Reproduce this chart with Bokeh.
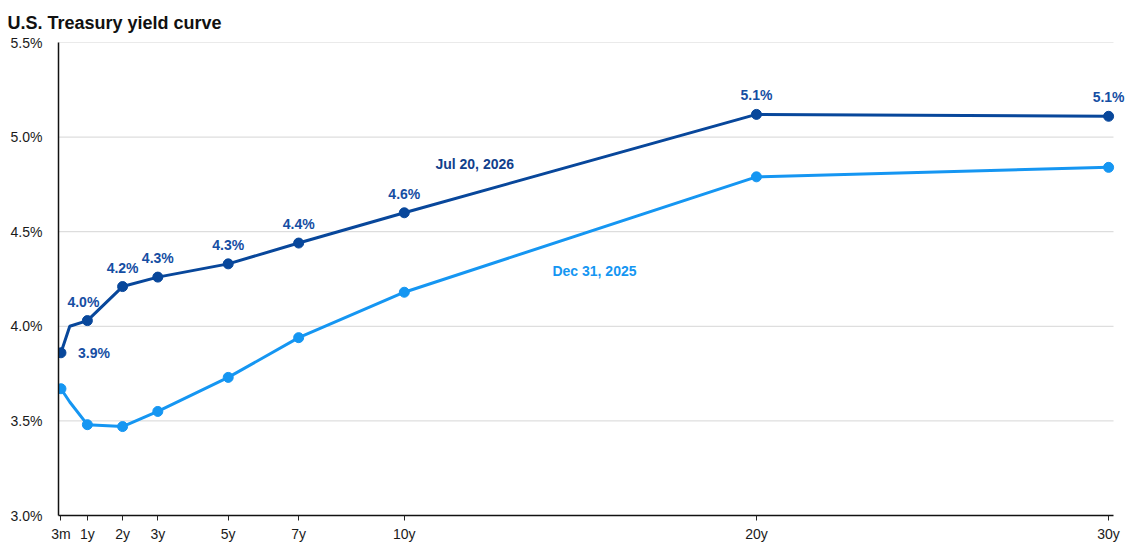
from bokeh.plotting import figure
from bokeh.models import FixedTicker, PrintfTickFormatter, Range1d, Label
from bokeh.embed import file_html
from bokeh.resources import INLINE

# Maturities (years) and their names
tenor_years = [0.25, 0.5, 1, 2, 3, 5, 7, 10, 20, 30]
tenor_names = ["3m", "6m", "1y", "2y", "3y", "5y", "7y", "10y", "20y", "30y"]
# Maturities shown on the axis
axis_years = [0.25, 1, 2, 3, 5, 7, 10, 20, 30]
axis_names = ["3m", "1y", "2y", "3y", "5y", "7y", "10y", "20y", "30y"]

# Yields, %
yields_jul_2026 = [3.86, 4.00, 4.03, 4.21, 4.26, 4.33, 4.44, 4.60, 5.12, 5.11]
yields_dec_2025 = [3.67, 3.60, 3.48, 3.47, 3.55, 3.73, 3.94, 4.18, 4.79, 4.84]

# Maturities that get a dot and a value label
marked = ["3m", "1y", "2y", "3y", "5y", "7y", "10y", "20y", "30y"]

y_ticks = [3.0, 3.5, 4.0, 4.5, 5.0, 5.5]

DARK = "#08479b"
LIGHT = "#1596f2"
LABEL_DARK = "#154ea3"
NAME_DARK = "#123f8c"
FONT = "Liberation Sans"

# Drawn part of the maturity axis; the frame runs a little further right so
# the last value label has room
X_START, X_END = 0.18, 30.14

p = figure(width=1130, height=550, output_backend="svg", toolbar_location=None,
           x_range=Range1d(X_START, 30.48), y_range=Range1d(3.0, 5.5),
           min_border_left=58, min_border_right=5, min_border_top=42,
           min_border_bottom=35, title="U.S. Treasury yield curve")
p.outline_line_color = None
p.background_fill_color = "white"
p.border_fill_color = "white"

p.title.text_font = FONT
p.title.text_font_size = "18px"
p.title.text_font_style = "bold"
p.title.text_color = "#111111"
p.title.align = "left"
p.title.offset = -51
p.title.standoff = 20

# Axes
p.xaxis.ticker = FixedTicker(ticks=axis_years)
p.xaxis.major_label_overrides = {t: n for t, n in zip(axis_years, axis_names)}
p.xaxis.bounds = (X_START, X_END)
p.xaxis.minor_tick_line_color = None
p.xaxis.major_tick_in = 0
p.xaxis.major_tick_out = 5
p.xaxis.major_tick_line_color = "#222222"
p.xaxis.axis_line_color = "#111111"
p.xaxis.axis_line_width = 1.5
p.xaxis.major_label_standoff = 5

p.yaxis.ticker = FixedTicker(ticks=y_ticks)
p.yaxis.formatter = PrintfTickFormatter(format="%.1f%%")
p.yaxis.minor_tick_line_color = None
p.yaxis.major_tick_line_color = None
p.yaxis.axis_line_color = "#111111"
p.yaxis.axis_line_width = 1.5
p.yaxis.major_label_standoff = 10

for ax in (p.xaxis, p.yaxis):
    ax.major_label_text_font = FONT
    ax.major_label_text_font_size = "14px"
    ax.major_label_text_color = "#1a1a1a"

# Horizontal grid lines, stopping where the maturity axis ends
p.xgrid.grid_line_color = None
p.ygrid.grid_line_color = None
grid_y = y_ticks[1:]
p.segment(x0=[X_START] * len(grid_y), x1=[X_END] * len(grid_y), y0=grid_y, y1=grid_y,
          line_color="#d6d6d6", line_width=1)

# Lines
p.line(tenor_years, yields_dec_2025, line_color=LIGHT, line_width=3)
p.line(tenor_years, yields_jul_2026, line_color=DARK, line_width=3)

def dots(values):
    xs = [x for x, n in zip(tenor_years, tenor_names) if n in marked]
    ys = [v for v, n in zip(values, tenor_names) if n in marked]
    return xs, ys

xs, ys = dots(yields_dec_2025)
p.scatter(xs, ys, size=10, fill_color=LIGHT, line_color=LIGHT)
xs, ys = dots(yields_jul_2026)
p.scatter(xs, ys, size=10, fill_color=DARK, line_color=DARK)

# Value labels on the Jul 20, 2026 curve (first one sits to the right, the rest above)
lx, ly = dots(yields_jul_2026)
for i, (x, y) in enumerate(zip(lx, ly)):
    if i == 0:
        dx, dy, align = 17, 0, "left"
    elif i == 1:
        dx, dy, align = -4, 19, "center"
    else:
        dx, dy, align = 0, 19, "center"
    p.add_layout(Label(x=x, y=y, text=f"{y:.1f}%", x_offset=dx, y_offset=dy,
                       text_align=align, text_baseline="middle",
                       text_font=FONT, text_font_size="14px",
                       text_font_style="bold", text_color=LABEL_DARK))

# Series names
p.add_layout(Label(x=12.0, y=4.86, text="Jul 20, 2026", text_align="center",
                   text_baseline="middle", text_font=FONT, text_font_size="14px",
                   text_font_style="bold", text_color=NAME_DARK))
p.add_layout(Label(x=15.4, y=4.29, text="Dec 31, 2025", text_align="center",
                   text_baseline="middle", text_font=FONT, text_font_size="14px",
                   text_font_style="bold", text_color=LIGHT))

open("out.html", "w").write(file_html(p, INLINE))
